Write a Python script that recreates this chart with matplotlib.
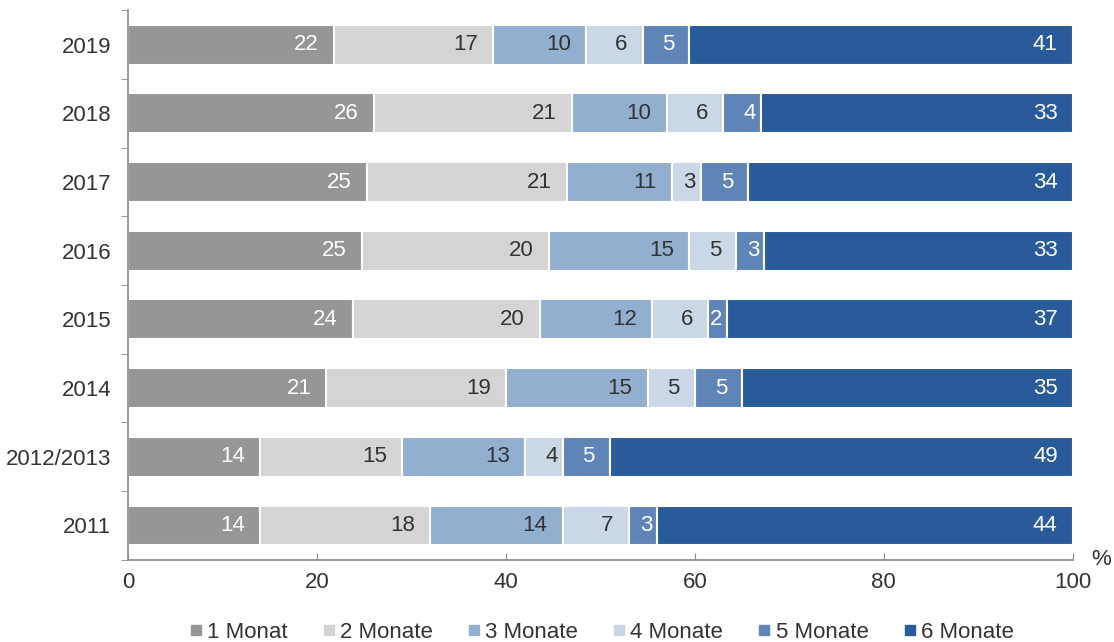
import numpy as np
import matplotlib.pyplot as plt
from matplotlib.lines import Line2D

plt.rcParams['font.family'] = ['Liberation Sans', 'DejaVu Sans']

years = ["2019", "2018", "2017", "2016", "2015", "2014", "2012/2013", "2011"]
series = ["1 Monat", "2 Monate", "3 Monate", "4 Monate", "5 Monate", "6 Monate"]

m1 = [22, 26, 25, 25, 24, 21, 14, 14]
m2 = [17, 21, 21, 20, 20, 19, 15, 18]
m3 = [10, 10, 11, 15, 12, 15, 13, 14]
m4 = [6, 6, 3, 5, 6, 5, 4, 7]
m5 = [5, 4, 5, 3, 2, 5, 5, 3]
m6 = [41, 33, 34, 33, 37, 35, 49, 44]

colors = ["#969696", "#d4d4d4", "#93afd0", "#c9d7e6", "#5f84b7", "#295b9a"]
label_colors = ["white", "#333333", "#333333", "#333333", "white", "white"]

values = np.array([m1, m2, m3, m4, m5, m6], dtype=float)
# rounded shares, scale each row so the bar spans 0-100 %
shares = values / values.sum(axis=0) * 100

fig = plt.figure(figsize=(11.14, 6.42), dpi=100)
ax = fig.add_axes([0.115, 0.128, 0.848, 0.856])

fs = 16
y = np.arange(len(years))
left = np.zeros(len(years))
for i in range(len(series)):
    ax.barh(y, shares[i], left=left, height=0.58, color=colors[i],
            edgecolor="white", linewidth=1.5, label=series[i])
    for j in range(len(years)):
        gap = 1.6 if shares[i][j] > 4 else 0.5
        ax.text(left[j] + shares[i][j] - gap, y[j], f"{int(values[i][j])}",
                ha="right", va="center", fontsize=fs, color=label_colors[i])
    left += shares[i]

ax.set_xlim(0, 100)
ax.set_ylim(len(years) - 0.5, -0.5)
ax.set_xticks([0, 20, 40, 60, 80, 100])
ax.tick_params(axis="x", direction="in", length=5, color="#888888",
               labelsize=fs, labelcolor="#333333", pad=9)

ax.set_yticks(y)
ax.set_yticklabels(years)
ax.tick_params(axis="y", length=0, labelsize=fs, labelcolor="#333333", pad=12)
ax.set_yticks(np.arange(-0.5, len(years), 1), minor=True)
ax.tick_params(axis="y", which="minor", direction="out", length=5, color="#888888")

for s in ["top", "right"]:
    ax.spines[s].set_visible(False)
for s in ["left", "bottom"]:
    ax.spines[s].set_color("#888888")
    ax.spines[s].set_linewidth(1.2)

fig.text(0.988, 0.128, "%", ha="center", va="center", fontsize=fs, color="#333333")

handles = [Line2D([], [], marker="s", linestyle="none", markersize=7.5,
                  markerfacecolor=c, markeredgecolor=c) for c in colors]
fig.legend(handles, series, loc="lower center", bbox_to_anchor=(0.538, -0.032),
           ncol=6, frameon=False, fontsize=fs, handletextpad=0.0,
           handlelength=1.0, columnspacing=1.35, labelcolor="#333333")

fig.savefig("out.png", dpi=100)
